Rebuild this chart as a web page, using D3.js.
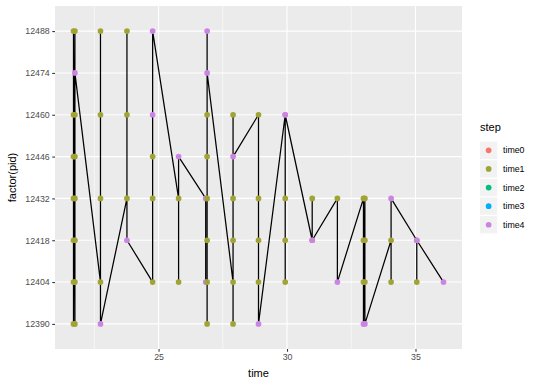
<!DOCTYPE html>
<html><head><meta charset="utf-8">
<script src="https://cdn.jsdelivr.net/npm/d3@7"></script>
<style>
body{margin:0;background:#fff}
svg{display:block}
text{font-family:"Liberation Sans",Arial,Helvetica,sans-serif}
</style>
</head><body>
<svg id="chart" width="540" height="386"></svg>
<script>
// ---- data ----
const pidLevels = ["12390","12404","12418","12432","12446","12460","12474","12488"];
const stepLevels = ["time0","time1","time2","time3","time4"];
const stepColors = ["#F8766D","#A1A434","#00BF7D","#00B0F6","#CB84E3"];
const xTicks = [25, 30, 35];
const xMinorTicks = [22.5, 27.5, 32.5];

// observations in data order
const times = [
  21.69,21.69,21.69,21.69,21.69,21.69,21.69,
  21.745,21.745,21.745,21.745,21.745,21.745,21.745,21.745,
  22.74,22.74,22.74,22.74,22.74,
  23.77,23.77,23.77,23.77,
  24.77,24.77,24.77,24.77,24.77,
  25.78,25.78,25.78,
  26.835,26.835,
  26.89,26.89,26.89,26.89,26.89,26.89,26.89,26.89,
  27.90,27.90,27.90,27.90,27.90,27.90,
  28.89,28.89,28.89,28.89,28.89,
  29.93,29.93,29.93,29.93,29.93,
  30.98,30.98,30.98,
  31.96,31.96,
  32.975,32.975,32.975,32.975,
  33.03,33.03,33.03,33.03,
  34.05,34.05,34.05,
  35.05,35.05,35.05,
  36.09
];
const pids = [
  "12390","12404","12418","12432","12446","12460","12488",
  "12390","12404","12418","12432","12446","12460","12488","12474",
  "12404","12432","12460","12488","12390",
  "12432","12460","12488","12418",
  "12404","12432","12446","12460","12488",
  "12432","12404","12446",
  "12432","12404",
  "12404","12432","12418","12390","12446","12460","12488","12474",
  "12404","12390","12418","12432","12460","12446",
  "12460","12432","12418","12404","12390",
  "12460","12432","12418","12404","12460",
  "12418","12432","12418",
  "12432","12404",
  "12432","12418","12404","12390",
  "12432","12418","12404","12390",
  "12418","12404","12432",
  "12418","12404","12418",
  "12404"
];
const steps = [
  "time1","time1","time1","time1","time1","time1","time1",
  "time1","time1","time1","time1","time1","time1","time1","time4",
  "time1","time1","time1","time1","time4",
  "time1","time1","time1","time4",
  "time1","time1","time1","time4","time4",
  "time1","time1","time4",
  "time4","time4",
  "time1","time1","time1","time1","time1","time1","time4","time4",
  "time1","time1","time1","time1","time1","time4",
  "time1","time1","time1","time1","time4",
  "time4","time1","time1","time1","time4",
  "time1","time1","time4",
  "time1","time4",
  "time1","time1","time1","time4",
  "time1","time1","time1","time4",
  "time1","time1","time4",
  "time1","time1","time4",
  "time4"
];

// ---- layout ----
const panel = {left: 55, right: 462, top: 6, bottom: 349};
const svg = d3.select("#chart");

const rows = times.map((t, i) => ({time: t, pid: pids[i], step: steps[i], i}));

const ext = d3.extent(times);
const pad = (ext[1] - ext[0]) * 0.05;
const x = d3.scaleLinear().domain([ext[0] - pad, ext[1] + pad]).range([panel.left, panel.right]);
const y = d3.scalePoint().domain(pidLevels).range([panel.bottom, panel.top]).padding(0.6);
const color = d3.scaleOrdinal().domain(stepLevels).range(stepColors);

// panel background
svg.append("rect")
  .attr("x", panel.left).attr("y", panel.top)
  .attr("width", panel.right - panel.left).attr("height", panel.bottom - panel.top)
  .attr("fill", "#EBEBEB");

const grid = svg.append("g");
grid.selectAll("line.minor").data(xMinorTicks).join("line")
  .attr("x1", d => x(d)).attr("x2", d => x(d))
  .attr("y1", panel.top).attr("y2", panel.bottom)
  .attr("stroke", "#fff").attr("stroke-width", 0.55);
grid.selectAll("line.majx").data(xTicks).join("line")
  .attr("x1", d => x(d)).attr("x2", d => x(d))
  .attr("y1", panel.top).attr("y2", panel.bottom)
  .attr("stroke", "#fff").attr("stroke-width", 1.1);
grid.selectAll("line.majy").data(pidLevels).join("line")
  .attr("x1", panel.left).attr("x2", panel.right)
  .attr("y1", d => y(d)).attr("y2", d => y(d))
  .attr("stroke", "#fff").attr("stroke-width", 1.1);

// line (geom_line: sorted by x, stable)
const sorted = rows.slice().sort((a, b) => a.time - b.time || a.i - b.i);
const line = d3.line().x(d => x(d.time)).y(d => y(d.pid));
svg.append("path")
  .datum(sorted)
  .attr("d", line)
  .attr("fill", "none")
  .attr("stroke", "#000")
  .attr("stroke-width", 1.25)
  .attr("stroke-linejoin", "round");

// points in data order
svg.append("g").selectAll("circle").data(rows).join("circle")
  .attr("cx", d => x(d.time)).attr("cy", d => y(d.pid))
  .attr("r", 2.85)
  .attr("fill", d => color(d.step));

// axes
const xAxis = d3.axisBottom(x).tickValues(xTicks).tickSize(2.75).tickPadding(2.5);
const gx = svg.append("g").attr("transform", `translate(0,${panel.bottom})`).call(xAxis);
const yAxis = d3.axisLeft(y).tickSize(2.75).tickPadding(2.5);
const gy = svg.append("g").attr("transform", `translate(${panel.left},0)`).call(yAxis);
[gx, gy].forEach(g => {
  g.select(".domain").remove();
  g.selectAll(".tick line").attr("stroke", "#333333").attr("stroke-width", 1.07);
  g.selectAll(".tick text").attr("fill", "#4D4D4D").attr("font-size", 8.8)
    .attr("font-family", '"Liberation Sans",Arial,sans-serif');
});

// axis titles
svg.append("text")
  .attr("x", (panel.left + panel.right) / 2).attr("y", 377)
  .attr("text-anchor", "middle").attr("font-size", 11).attr("fill", "#000")
  .text("time");
svg.append("text")
  .attr("transform", `translate(15.5,${(panel.top + panel.bottom) / 2}) rotate(-90)`)
  .attr("text-anchor", "middle").attr("font-size", 11).attr("fill", "#000")
  .text("factor(pid)");

// legend
const lg = svg.append("g").attr("transform", "translate(480,0)");
lg.append("text").attr("x", 0).attr("y", 131).attr("font-size", 11).attr("fill", "#000").text("step");
const keys = lg.selectAll("g.key").data(stepLevels).join("g")
  .attr("transform", (d, i) => `translate(0,${141.7 + i * 18.6})`);
keys.append("rect").attr("x", 0).attr("y", 0).attr("width", 17.28).attr("height", 17.28).attr("fill", "#F2F2F2");
keys.append("circle").attr("cx", 8.64).attr("cy", 8.64).attr("r", 2.85).attr("fill", d => color(d));
keys.append("text").attr("x", 23).attr("y", 8.64).attr("dy", "0.35em")
  .attr("font-size", 8.8).attr("fill", "#000").text(d => d);
</script>
</body></html>
